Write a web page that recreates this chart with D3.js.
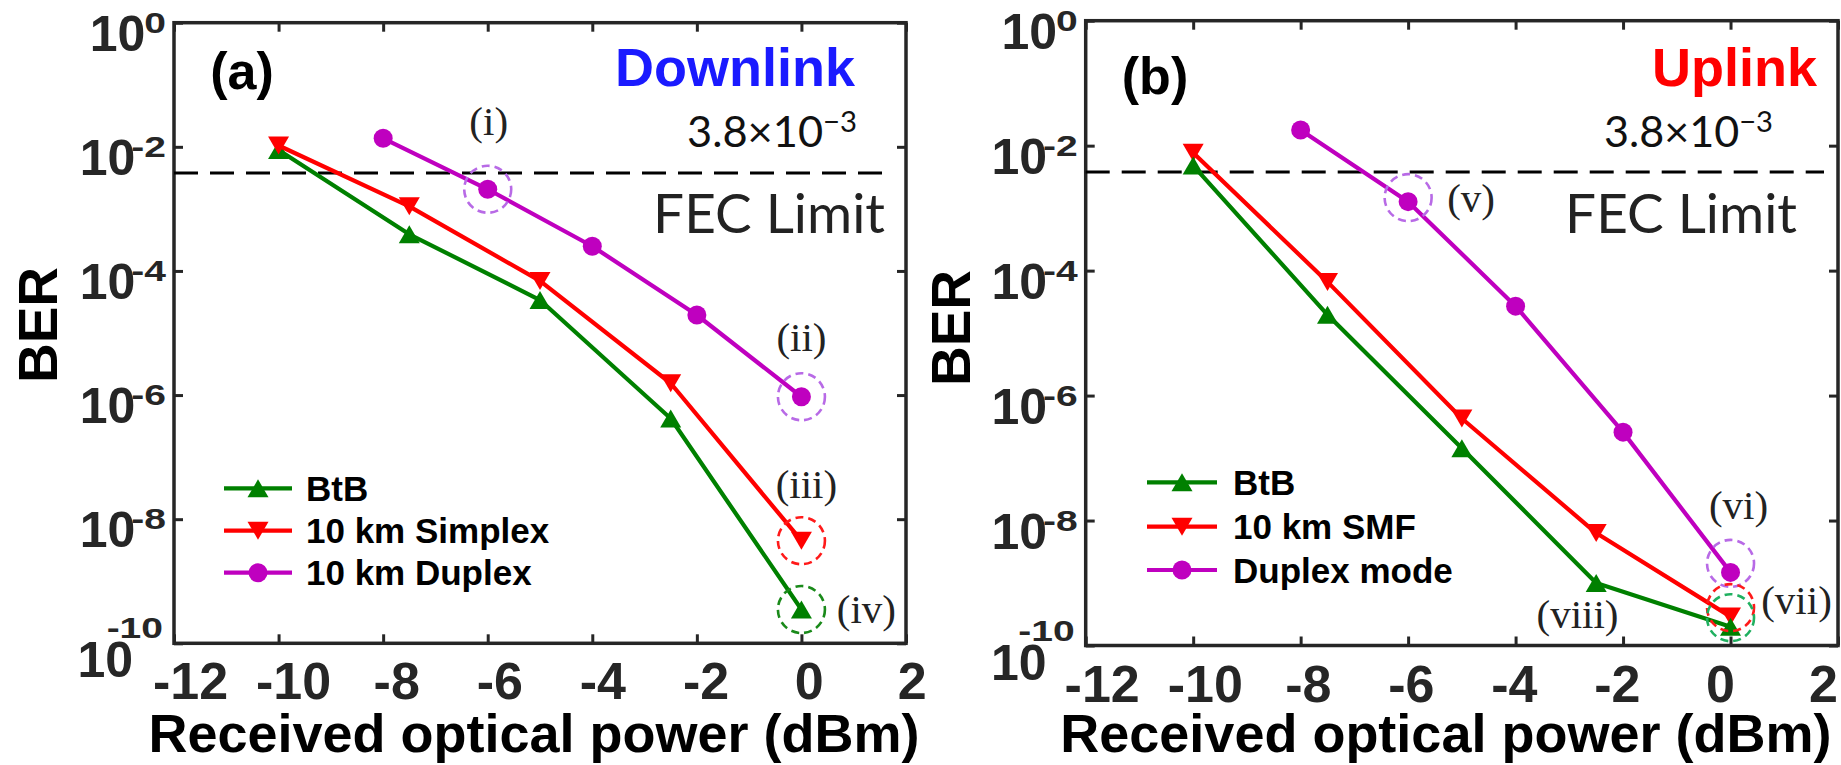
<!DOCTYPE html>
<html><head><meta charset="utf-8">
<script src="https://cdn.jsdelivr.net/npm/d3@7"></script>
<style>body{margin:0;background:#fff} svg{display:block}</style>
</head><body>
<svg id="chart" width="1841" height="765"></svg>
<script>
// ---------- data ----------
const xTicks = [-12, -10, -8, -6, -4, -2, 0, 2];
const yTickExps = [0, -2, -4, -6, -8, -10];
const fecLimit = 3.8e-3;

// (a) Downlink
const powerBtB_a = [-10, -7.5, -5, -2.5, 0];
const berBtB_a = [8.9e-3, 3.9e-4, 3.4e-5, 4.2e-7, 3.5e-10];
const powerSimplex_a = [-10, -7.5, -5, -2.5, 0];
const berSimplex_a = [1.05e-2, 1.1e-3, 6.9e-5, 1.55e-6, 4.5e-9];
const powerDuplex_a = [-8, -6, -4, -2, 0];
const berDuplex_a = [1.37e-2, 2.07e-3, 2.5e-4, 1.95e-5, 9.4e-7];

// (b) Uplink
const powerBtB_b = [-10, -7.5, -5, -2.5, 0];
const berBtB_b = [4.8e-3, 1.96e-5, 1.44e-7, 1.0e-9, 2.0e-10];
const powerSMF_b = [-10, -7.5, -5, -2.5, 0];
const berSMF_b = [7.7e-3, 6.6e-5, 4.3e-7, 6.3e-9, 2.9e-10];
const powerDuplex_b = [-8, -6, -4, -2, 0];
const berDuplex_b = [1.78e-2, 1.27e-3, 2.7e-5, 2.6e-7, 1.48e-9];

const legendA = ["BtB", "10 km Simplex", "10 km Duplex"];
const legendB = ["BtB", "10 km SMF", "Duplex mode"];
const labelsA = ["(i)", "(ii)", "(iii)", "(iv)"];
const labelsB = ["(v)", "(vi)", "(vii)", "(viii)"];

// ---------- styles / layout ----------
const SANS = "'Liberation Sans', Arial, Helvetica, sans-serif";
const SERIF = "'Liberation Serif', 'Times New Roman', serif";
const CAL = "Lato, 'Open Sans', sans-serif";
const AX = "#262626";
const GREEN = "#008000", RED = "#ff0000", MAG = "#bf00bf";

const panels = [
  {
    box: {l: 174, r: 906, t: 22.7, b: 643.3},
    xLabelRange: [190, 911.7],
    series: [
      {x: powerBtB_a, y: berBtB_a, color: GREEN, marker: "up"},
      {x: powerDuplex_a, y: berDuplex_a, color: MAG, marker: "circle"},
      {x: powerSimplex_a, y: berSimplex_a, color: RED, marker: "down"}
    ],
    legendNames: legendA, legendOrder: [0, 2, 1],
    legend: {x1: 224, x2: 292, ys: [488.3, 530.7, 572.7], tx: 306},
    tag: {text: "(a)", x: 242, y: 89},
    title: {text: "Downlink", color: "#1a1aff", x: 855, y: 86},
    fec: {x: 857, y1: 146.7, y2: 233.3, xf: 885, w1: 170, w2: 232},
    lastBaseOff: 41,
    xTitleOff: -6, berX: 57, berY: 325,
    notes: [
      {s: 1, i: 1, label: labelsA[0], color: "#b86ae6", cdy: 0, ldx: 1, ldy: -54},
      {s: 1, i: 4, label: labelsA[1], color: "#b86ae6", cdy: 0, ldx: 0, ldy: -46},
      {s: 2, i: 4, label: labelsA[2], color: "#ff1a1a", cdy: 0, ldx: 5, ldy: -43},
      {s: 0, i: 4, label: labelsA[3], color: "#1a8a1a", cdy: 0, ldx: 65, ldy: 13}
    ]
  },
  {
    box: {l: 1085.7, r: 1838, t: 20.7, b: 645.5},
    xLabelRange: [1101.7, 1823],
    series: [
      {x: powerDuplex_b, y: berDuplex_b, color: MAG, marker: "circle"},
      {x: powerSMF_b, y: berSMF_b, color: RED, marker: "down"},
      {x: powerBtB_b, y: berBtB_b, color: GREEN, marker: "up"}
    ],
    legendNames: legendB, legendOrder: [2, 1, 0],
    legend: {x1: 1147, x2: 1217, ys: [482.3, 526.7, 570], tx: 1233},
    tag: {text: "(b)", x: 1155, y: 94},
    title: {text: "Uplink", color: "#ff0000", x: 1817, y: 86},
    fec: {x: 1773, y1: 146.7, y2: 233.3, xf: 1797, w1: 169, w2: 232},
    lastBaseOff: 39,
    xTitleOff: -16, berX: 970, berY: 328,
    notes: [
      {s: 0, i: 1, label: labelsB[0], color: "#b86ae6", cdy: -4, ldx: 63, ldy: 10},
      {s: 0, i: 4, label: labelsB[1], color: "#b86ae6", cdy: -9, ldx: 8, ldy: -53},
      {s: 1, i: 4, label: labelsB[2], color: "#ff1a1a", cdy: -9, ldx: 66, ldy: -3},
      {s: 2, i: 4, label: labelsB[3], color: "#20b060", cdy: -9, ldx: -153, ldy: 1}
    ]
  }
];

const svg = d3.select("#chart");

function markerPath(type) {
  const w = 21, h = 18;
  if (type === "up") return `M0,${-h/2}L${w/2},${h/2}L${-w/2},${h/2}Z`;
  if (type === "down") return `M0,${h/2}L${w/2},${-h/2}L${-w/2},${-h/2}Z`;
  return null;
}
function drawMarker(g, type, color, cx, cy) {
  if (type === "circle") {
    g.append("circle").attr("cx", cx).attr("cy", cy).attr("r", 9.5).attr("fill", color);
  } else {
    g.append("path").attr("d", markerPath(type)).attr("transform", `translate(${cx},${cy})`).attr("fill", color);
  }
}
function fitFont(textSel, targetW) {
  const len = textSel.node().getComputedTextLength();
  if (!len) return;
  const k = targetW / len;
  textSel.selectAll("tspan").each(function () {
    const fs = parseFloat(d3.select(this).attr("font-size") || textSel.attr("font-size"));
    if (d3.select(this).attr("font-size")) d3.select(this).attr("font-size", fs * k);
    if (d3.select(this).attr("dy")) d3.select(this).attr("dy", parseFloat(d3.select(this).attr("dy")) * k);
  });
  textSel.attr("font-size", parseFloat(textSel.attr("font-size")) * k);
}

panels.forEach(p => {
  const {l, r, t, b} = p.box;
  const x = d3.scaleLinear().domain([xTicks[0], xTicks[xTicks.length - 1]]).range([l, r]);
  const xLab = d3.scaleLinear().domain(x.domain()).range(p.xLabelRange);
  const y = d3.scaleLog().domain([1e-10, 1]).range([b, t]);
  const g = svg.append("g");

  // ticks (inward)
  const yTickVals = yTickExps.map(e => Math.pow(10, e));
  const styleAxis = sel => {
    sel.select(".domain").remove();
    sel.selectAll(".tick line").attr("stroke", AX).attr("stroke-width", 3);
  };
  const xb = g.append("g").attr("transform", `translate(0,${b})`)
    .call(d3.axisBottom(x).tickValues(xTicks).tickSize(-9).tickFormat(d => String(d)));
  styleAxis(xb);
  xb.selectAll(".tick text").attr("y", 56).attr("dy", 0).attr("x", d => xLab(d) - x(d))
    .attr("font-family", SANS).attr("font-weight", "bold").attr("font-size", 52).attr("fill", AX);
  g.append("g").attr("transform", `translate(0,${t})`)
    .call(d3.axisTop(x).tickValues(xTicks).tickSize(-9).tickFormat("")).call(styleAxis);
  g.append("g").attr("transform", `translate(${l},0)`)
    .call(d3.axisLeft(y).tickValues(yTickVals).tickSize(-9).tickFormat("")).call(styleAxis);
  g.append("g").attr("transform", `translate(${r},0)`)
    .call(d3.axisRight(y).tickValues(yTickVals).tickSize(-9).tickFormat("")).call(styleAxis);

  // y tick labels 10^n
  const SX = 1.3;
  yTickExps.forEach((e, k) => {
    const ty = y(Math.pow(10, e));
    const last = k === yTickExps.length - 1;
    const lab = g.append("g").attr("font-family", SANS).attr("font-weight", "bold").attr("fill", AX);
    const supEnd = l - (last ? 11 : 8);
    const supY = ty + (last ? -5 : 10);
    const sup = lab.append("text").attr("transform", `translate(${supEnd},${supY}) scale(${SX},1)`)
      .attr("text-anchor", "end").attr("font-size", 30).text(e === 0 ? "0" : String(e));
    const w = sup.node().getComputedTextLength() * SX;
    const baseEnd = last ? l - p.lastBaseOff : supEnd - w + (e < 0 ? 4 : 1);
    lab.append("text").attr("x", baseEnd).attr("y", ty + (last ? 34 : 28))
      .attr("text-anchor", "end").attr("font-size", 50).text("10");
  });

  // frame
  g.append("rect").attr("x", x(xTicks[0])).attr("y", y(1))
    .attr("width", x(xTicks[xTicks.length - 1]) - x(xTicks[0])).attr("height", y(1e-10) - y(1))
    .attr("fill", "none").attr("stroke", AX).attr("stroke-width", 3.5);

  // FEC limit
  g.append("line").attr("x1", x(xTicks[0])).attr("x2", r - 14)
    .attr("y1", y(fecLimit)).attr("y2", y(fecLimit))
    .attr("stroke", "#000").attr("stroke-width", 3).attr("stroke-dasharray", "24,12");

  // series
  p.series.forEach(s => {
    const pts = s.x.map((v, i) => [v, s.y[i]]);
    g.append("path").datum(pts)
      .attr("d", d3.line().x(d => x(d[0])).y(d => y(d[1])))
      .attr("fill", "none").attr("stroke", s.color).attr("stroke-width", 4.2).attr("stroke-linejoin", "round");
    pts.forEach(d => drawMarker(g, s.marker, s.color, x(d[0]), y(d[1])));
  });

  // annotations
  p.notes.forEach(n => {
    const s = p.series[n.s];
    const cx = x(s.x[n.i]), cy = y(s.y[n.i]);
    g.append("circle").attr("cx", cx).attr("cy", cy + n.cdy).attr("r", 23.5)
      .attr("fill", "none").attr("stroke", n.color).attr("stroke-width", 2.6).attr("stroke-dasharray", "8,5");
    g.append("text").attr("x", cx + n.ldx).attr("y", cy + n.ldy).attr("text-anchor", "middle")
      .attr("font-family", SERIF).attr("font-size", 41).attr("fill", "#222").text(n.label);
  });

  // legend
  p.legendOrder.forEach((si, k) => {
    const s = p.series[si];
    const ly = p.legend.ys[k];
    g.append("line").attr("x1", p.legend.x1).attr("x2", p.legend.x2).attr("y1", ly).attr("y2", ly)
      .attr("stroke", s.color).attr("stroke-width", 4.2);
    drawMarker(g, s.marker, s.color, (p.legend.x1 + p.legend.x2) / 2, ly);
    g.append("text").attr("x", p.legend.tx).attr("y", ly + 12.5)
      .attr("font-family", SANS).attr("font-weight", "bold").attr("font-size", 35).attr("fill", "#000")
      .text(p.legendNames[k]);
  });

  // texts
  g.append("text").attr("x", p.tag.x).attr("y", p.tag.y).attr("text-anchor", "middle")
    .attr("font-family", SANS).attr("font-weight", "bold").attr("font-size", 52).attr("fill", "#000").text(p.tag.text);
  g.append("text").attr("x", p.title.x).attr("y", p.title.y).attr("text-anchor", "end")
    .attr("font-family", SANS).attr("font-weight", "bold").attr("font-size", 54).attr("fill", p.title.color).text(p.title.text);
  const ft = g.append("text").attr("x", p.fec.x).attr("y", p.fec.y1).attr("text-anchor", "end")
    .attr("font-family", CAL).attr("font-size", 40).attr("fill", "#111");
  ft.append("tspan").text("3.8×10");
  ft.append("tspan").attr("font-size", 27).attr("dy", -14).text("−3");
  fitFont(ft, p.fec.w1);
  const fl = g.append("text").attr("x", p.fec.xf).attr("y", p.fec.y2).attr("text-anchor", "end")
    .attr("font-family", CAL).attr("font-size", 54).attr("fill", "#222").text("FEC Limit");
  fitFont(fl, p.fec.w2);

  g.append("text").attr("x", (l + r) / 2 + p.xTitleOff).attr("y", 752).attr("text-anchor", "middle")
    .attr("font-family", SANS).attr("font-weight", "bold").attr("font-size", 54).attr("fill", "#000")
    .text("Received optical power (dBm)");
  g.append("text").attr("transform", `translate(${p.berX},${p.berY}) rotate(-90)`).attr("text-anchor", "middle")
    .attr("font-family", SANS).attr("font-weight", "bold").attr("font-size", 55).attr("fill", "#000").text("BER");
});
</script>
</body></html>
